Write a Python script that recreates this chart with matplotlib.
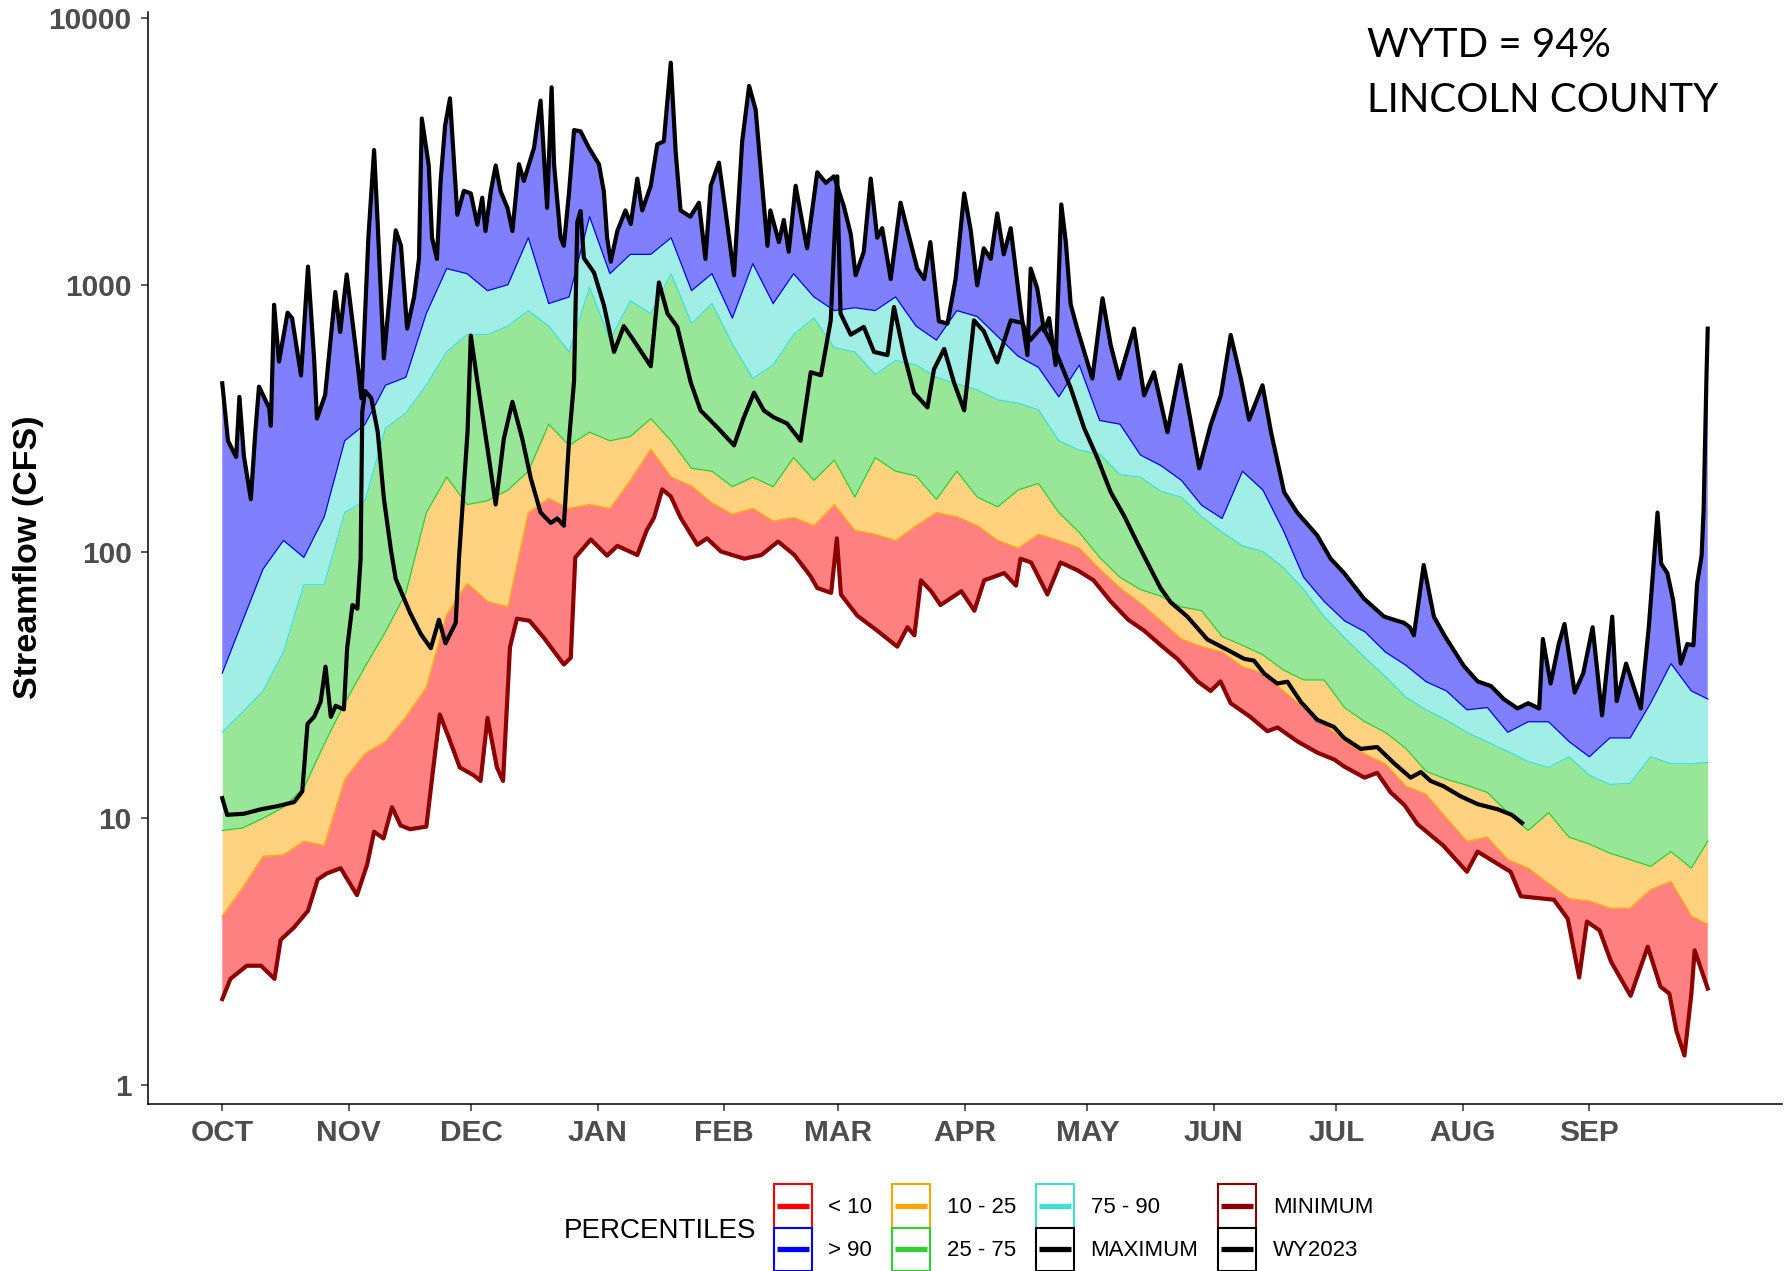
import numpy as np
import matplotlib
matplotlib.use("Agg")
import matplotlib.pyplot as plt
from matplotlib.patches import Rectangle
from matplotlib.lines import Line2D
from matplotlib.legend_handler import HandlerBase

plt.rcParams['font.family'] = ['Liberation Sans', 'DejaVu Sans']

# ---------------- data (day of water year, CFS) ----------------
grid_days = list(range(0, 361, 5)) + [364]

p90 = [35, 55, 86, 110, 95, 135, 260, 300, 420, 450,
       780, 1150, 1100, 950, 1000, 1500, 850, 900, 1800, 1100,
       1300, 1300, 1500, 950, 1100, 750, 1200, 850, 1100, 900,
       800, 820, 800, 900, 700, 620, 800, 760, 640, 540,
       490, 380, 500, 310, 300, 230, 210, 185, 149, 133,
       200, 170, 120, 80, 65, 55, 50, 42, 37.5, 32.5,
       30, 25.5, 26, 21, 23, 23, 19.4, 17, 20, 20,
       27, 38, 30, 28]

p75 = [21, 25, 30, 42, 75, 75, 140, 155, 290, 330,
       420, 560, 650, 650, 700, 800, 700, 560, 980, 620,
       870, 780, 1100, 715, 850, 600, 445, 500, 650, 750,
       580, 560, 460, 520, 500, 450, 425, 404, 370, 360,
       340, 260, 240, 232, 194, 190, 168, 160, 135, 118,
       105, 100, 87, 72, 57, 47.5, 40, 34, 28.5, 25.5,
       23.3, 21, 19.3, 17.8, 16.3, 15.5, 17, 14.5, 13.4, 13.5,
       17, 16, 16, 16.2]

p25 = [9, 9.2, 10, 11, 13, 19, 27, 37, 50, 70,
       140, 190, 150, 155, 170, 200, 300, 250, 280, 260,
       270, 315, 260, 205, 200, 175, 190, 175, 225, 185,
       220, 160, 225, 200, 192, 157, 200, 160, 147, 170,
       180, 140, 118, 95, 80, 72, 68, 62, 60, 48,
       44.5, 41, 36, 33, 33, 26, 23, 21, 18.3, 15,
       14, 13.3, 12.5, 10.5, 9, 10.5, 8.5, 8, 7.4, 7,
       6.6, 7.5, 6.5, 8.2]

p10 = [4.3, 5.5, 7.2, 7.3, 8.2, 7.9, 14, 17.5, 19.4, 24,
       31, 58, 76, 65, 62, 140, 158, 145, 150, 145,
       185, 242, 190, 176, 152, 138, 145, 130, 134, 125,
       150, 120, 116, 110, 125, 140, 135, 125, 110, 103,
       116, 110, 103, 86, 73, 64, 55, 47, 44, 42,
       37, 35, 30, 26, 22.5, 19.5, 17.4, 16, 13.2, 12.3,
       10, 8.2, 8.5, 7, 6.5, 5.7, 5, 4.9, 4.6, 4.6,
       5.4, 5.8, 4.3, 4]

min_days = [0, 2, 6, 9.5, 12.8, 14.3, 17.6, 21, 23.4, 25.5, 29, 33, 35.5, 37.2, 39.5,
            41.6, 43.7, 46, 50, 51.5, 53.3, 55.7, 58.2, 61.6, 63.3, 65, 67.3, 68.8,
            70.5, 72.2, 75.3, 78.8, 83.7, 85.4, 86.5, 90.3, 94.3, 96.8, 101.7, 104,
            105.8, 107.8, 109.9, 112.3, 116.4, 118.8, 122.2, 127.9, 132.1, 136.2,
            140.2, 144.1, 145.8, 149.2, 150.6, 151.6, 155.6, 160.5, 165.4, 167.9,
            169.6, 171.2, 173.7, 176, 181.1, 184.3, 186.7, 191.6, 194.5, 195.6,
            198.2, 202.2, 205.4, 209.6, 213.5, 217.7, 222, 225.9, 230, 234.1, 239,
            242.2, 244.6, 247.1, 251.9, 256.1, 258.6, 263.5, 268.4, 272.5, 275,
            279.9, 283, 286.3, 289.7, 292.9, 299.2, 305, 307.6, 315.7, 318.2,
            326.3, 329.7, 332.5, 334.4, 337.5, 340.3, 345.1, 349.3, 352.4, 354.6,
            356.3, 358.3, 360, 360.8, 362.7, 364]
min_vals = [2.1, 2.5, 2.8, 2.8, 2.5, 3.5, 3.9, 4.5, 5.9, 6.2, 6.5, 5.15, 6.7, 8.9, 8.4,
            11, 9.4, 9.1, 9.3, 14.5, 24.5, 19.7, 15.5, 14.5, 13.8, 23.8, 15.5, 13.8,
            43.8, 56, 55, 47.5, 37.7, 40, 95, 111, 96.5, 105, 97, 120,
            134, 171, 161, 134, 106, 112, 100, 94, 97, 109,
            97, 81, 73, 70, 112, 69, 57.5, 50.5, 44, 52,
            48.5, 78, 71, 63, 71, 60, 78, 83, 74.5, 94,
            91, 69, 91, 85, 78, 65, 55.5, 50.5, 44.5, 39.5, 32.6,
            30, 32.6, 27, 24, 21.2, 21.9, 19.4, 17.6, 16.6, 15.6,
            14.2, 14.8, 12.5, 11.2, 9.5, 7.9, 6.3, 7.5, 6.3, 5.1,
            4.95, 4.2, 2.53, 4.1, 3.8, 2.9, 2.16, 3.3, 2.34, 2.2,
            1.6, 1.29, 2.2, 3.2, 2.63, 2.3]

max_days = [0, 1.4, 3.4, 4.2, 5.3, 7, 8.1, 9, 11.5, 11.9, 12.7, 13.9, 16, 17.1, 19.3,
            21, 22.5, 23.2, 25.2, 27.7, 28.9, 30.5, 33, 34.1, 35.8, 37.2, 38, 39.6,
            42.5, 43.8, 45.3, 47, 48.2, 48.9, 50.6, 51.4, 52.6, 53.5, 54.6, 55.8,
            57.6, 59.2, 60.9, 62.5, 63.7, 64.5, 65.8, 67, 68.2, 69.9, 71.1, 72.7,
            73.9, 76.4, 78, 79.6, 80.7, 81.3, 82.9, 83.7, 85, 86.2, 87.8, 89.8,
            92.3, 93.5, 94.3, 95.2, 96.8, 98.8, 100.1, 101.7, 102.9, 105, 106.6,
            108.2, 109.9, 111.1, 112.3, 114.7, 116.8, 118.4, 119.7, 121.7, 123.3,
            125.4, 127.4, 129.1, 130.7, 132.3, 133.6, 134.3, 136.4, 137.6, 138.8,
            140.5, 143.3, 145.8, 147.9, 149.9, 152.3, 154, 155.2, 157.2, 158.9,
            160.5, 161.7, 163.8, 166.2, 167.9, 170.3, 172, 173.5, 175.6, 177.7,
            179.7, 181.8, 183.4, 185, 186.6, 188.3, 189.9, 191.5, 193.2, 195.6,
            197.3, 198.1, 199.7, 201.4, 202.6, 204.2, 205.6, 206.7, 207.9, 209.5,
            213.2, 215.7, 217.7, 219.8, 223.4, 225.9, 228.3, 231.6, 234.8, 239.4,
            242.2, 244.7, 247.1, 249.6, 251.6, 254.9, 257, 260.2, 263.4, 268.3,
            271.6, 274.9, 279.8, 284.7, 289.6, 291, 292, 294.4, 296.9, 299.5,
            304.2, 307.6, 310.9, 314, 317.4, 320, 322.7, 323.6, 325.5, 327.5,
            328.9, 331.4, 333.5, 335.8, 338.1, 340.6, 341.7, 344, 347.6, 349.6,
            351.7, 352.6, 354.1, 355.5, 357.4, 359, 360.5, 361.4, 362.5, 363,
            363.4, 363.7, 364]
max_vals = [427, 260, 226, 380, 228, 157, 281, 415, 345, 296, 842, 515, 786, 750, 457,
            1170, 530, 315, 386, 940, 665, 1093, 530, 375, 1500, 3200, 1800, 530,
            1600, 1400, 685, 900, 1250, 4200, 2800, 1500, 1250, 2450, 3950, 5000,
            1830, 2250, 2200, 1680, 2120, 1590, 2240, 2800, 2240, 1940, 1590, 2830,
            2450, 3265, 4900, 1940, 5500, 2830, 1500, 1400, 2240, 3800, 3760, 3270,
            2830, 2240, 1500, 1220, 1590, 1900, 1690, 2500, 1900, 2350, 3360,
            3450, 6800, 3150, 1900, 1800, 2030, 1250, 2350, 2870, 1900,
            1085, 3450, 5560, 4530, 2350, 1400, 1900, 1445, 1750, 1330,
            2350, 1370, 2640, 2410, 2550, 1970, 1550, 1085, 1330, 2500,
            1500, 1630, 1050, 2030, 1600, 1150, 1050, 1445, 730, 715,
            1050, 2200, 1600, 995, 1370, 1250, 1850, 1300, 1630, 815,
            545, 1150, 970, 670, 750, 500, 2000, 1450, 845, 685,
            445, 890, 595, 445, 685, 385, 470, 280, 500, 205,
            298, 385, 648, 445, 312, 420, 280, 167, 140, 115,
            94, 83, 66.5, 57, 54, 52, 48.5, 89, 57, 48.4,
            37.3, 32.6, 31.3, 28, 25.8, 27, 25.8, 47, 32, 45,
            53.5, 29.6, 35, 52, 24.3, 57, 27.5, 38, 25.8, 53,
            140, 90, 83, 66, 38, 45, 44.5, 76, 96.5, 144,
            280, 458, 685]

wy_days = [0, 1.2, 5.3, 9.4, 13.5, 17.6, 19.6, 20.9, 22.5, 24.1, 25.3, 26.6, 27.8,
           29.8, 30.6, 31.9, 33.1, 33.9, 34.3, 35, 36.5, 38.1, 39.6, 41.3, 42.5, 46,
           48.6, 51.1, 53.1, 54.7, 57.2, 58, 60.1, 60.9, 62.5, 65, 67, 69, 71.1,
           73.5, 75.6, 78, 80.5, 82.1, 83.7, 85, 86.2, 87, 87.8, 88.6, 91.1, 93.5,
           96, 98.4, 100.9, 105, 107, 109.1, 111.5, 114.8, 117.2, 121.3, 125.4,
           127.8, 130.3, 132.7, 135.2, 138.4, 141.7, 144.2, 146.7, 149.1, 150.7,
           151.5, 154, 157.2, 159.7, 163, 164.6, 167.1, 169.5, 172.8, 174.4, 176.9,
           179.3, 181.8, 184.2, 186.6, 189.9, 193.2, 196, 198, 201, 204.6, 207.9,
           211.2, 214.4, 217.7, 221, 224.2, 227.5, 229.9, 232.4, 236.5, 241.4,
           246.3, 250.4, 252.8, 255.3, 258.5, 261, 264.3, 268.3, 272.4, 274.9, 279,
           283, 287.1, 291.2, 293.7, 296.1, 299.2, 303.4, 307.6, 312.6, 316, 318.5]
wy_vals = [11.9, 10.3, 10.4, 10.8, 11.1, 11.5, 12.6, 22.6, 24, 27.3, 37, 24, 26.4,
           25.6, 43.4, 63, 61, 94, 334, 400, 376, 280, 158, 102, 79, 59,
           49.2, 43.4, 55.5, 45.3, 54, 94, 280, 645, 435, 243, 150, 265, 364,
           265, 188, 140, 128, 133, 125, 265, 435, 1720, 1890, 1260, 1110, 840,
           560, 700, 616, 495, 1020, 780, 695, 430, 338, 292, 250,
           318, 394, 338, 318, 302, 260, 470, 458, 735, 2550,
           780, 650, 695, 560, 545, 825, 545, 394, 347, 482, 575,
           430, 338, 735, 670, 512, 735, 720, 620, 700, 545, 410,
           290, 225, 167, 136, 108, 86, 73, 64.5, 57, 46.8,
           42.8, 39.6, 39, 34.9, 32, 32.5, 27.3, 23.4, 22, 20, 18.2,
           18.5, 16.1, 14.2, 14.9, 13.8, 13.2, 12.1, 11.3, 10.8, 10.3, 9.6]

month_days = [0, 31, 61, 92, 123, 151, 182, 212, 243, 273, 304, 335]
month_labels = ['OCT', 'NOV', 'DEC', 'JAN', 'FEB', 'MAR', 'APR', 'MAY', 'JUN',
                'JUL', 'AUG', 'SEP']
ytick_vals = [1, 10, 100, 1000, 10000]
ytick_labels = ['1', '10', '100', '1000', '10000']

legend_labels = ['< 10', '> 90', '10 - 25', '25 - 75', '75 - 90', 'MAXIMUM',
                 'MINIMUM', 'WY2023']
legend_colors = ['#FF0000', '#0000FF', '#FFA500', '#32CD32', '#40E0D0', '#000000',
                 '#8B0000', '#000000']


class KeyHandler(HandlerBase):
    """Legend key: outlined white box with a thick centred line."""
    def create_artists(self, legend, orig_handle, xdescent, ydescent, width,
                       height, fontsize, trans):
        c = orig_handle.get_color()
        box = Rectangle((-xdescent, -ydescent), width, height, facecolor='white',
                        edgecolor=c, linewidth=1.5, transform=trans)
        yc = -ydescent + height / 2.0
        ln = Line2D([-xdescent + 0.08 * width, -xdescent + 0.92 * width], [yc, yc],
                    color=c, linewidth=3.8, solid_capstyle='butt', transform=trans)
        return [box, ln]


# ---------------- figure ----------------
W, H = 1791, 1271
fig = plt.figure(figsize=(W / 100, H / 100), dpi=100)
ax = fig.add_axes([148 / W, 1 - 1104 / H, (1782 - 148) / W, (1104 - 12) / H])
ax.set_yscale('log')
ax.set_xlim(-18.2, 382.2)
ax.set_ylim(0.849, 10532)

g = np.array(grid_days, dtype=float)
a90, a75, a25, a10 = (np.array(v, dtype=float) for v in (p90, p75, p25, p10))

# bands
ax.fill(np.r_[min_days, g[::-1]], np.r_[min_vals, a10[::-1]],
        color='#FF8080', lw=0, zorder=1)
ax.fill_between(g, a10, a25, color='#FFD280', lw=0, zorder=1)
ax.fill_between(g, a25, a75, color='#98E698', lw=0, zorder=1)
ax.fill_between(g, a75, a90, color='#A0EEE6', lw=0, zorder=1)
ax.fill(np.r_[max_days, g[::-1]], np.r_[max_vals, a90[::-1]],
        color='#8080FF', lw=0, zorder=1)

# band edges
ax.plot(g, a10, color='#FFA500', lw=0.9, zorder=2)
ax.plot(g, a25, color='#32CD32', lw=0.9, zorder=2)
ax.plot(g, a75, color='#40E0D0', lw=0.9, zorder=2)
ax.plot(g, a90, color='#0000FF', lw=0.9, zorder=2)

# lines
ax.plot(max_days, max_vals, color='black', lw=3.0, zorder=3)
ax.plot(min_days, min_vals, color='#8B0000', lw=3.0, zorder=3)
ax.plot(wy_days, wy_vals, color='black', lw=3.0, zorder=4)

# axes styling
for s in ('top', 'right'):
    ax.spines[s].set_visible(False)
for s in ('left', 'bottom'):
    ax.spines[s].set_color('black')
    ax.spines[s].set_linewidth(1.1)

ax.set_xticks(month_days)
ax.set_xticklabels(month_labels, fontsize=21.5, fontweight='bold', color='#4D4D4D')
ax.set_yticks(ytick_vals)
ax.set_yticklabels(ytick_labels, fontsize=21.5, fontweight='bold', color='#4D4D4D')
ax.yaxis.set_minor_locator(matplotlib.ticker.NullLocator())
ax.tick_params(axis='x', length=4.8, width=1.1, color='#333333', pad=6)
ax.tick_params(axis='y', length=4.8, width=1.1, color='#333333', pad=7)

fig.text(28.5 / W, 1 - 557 / H, 'Streamflow (CFS)', rotation=90, ha='center',
         va='center', fontsize=24.5, fontweight='bold', color='black')

# annotation
fig.text(1367 / W, 1 - 57 / H, 'WYTD = 94%', fontsize=29, family=['Lato', 'DejaVu Sans'],
         ha='left', va='baseline', color='black')
fig.text(1367 / W, 1 - 112 / H, 'LINCOLN COUNTY', fontsize=29,
         family=['Lato', 'DejaVu Sans'], ha='left', va='baseline', color='black')

# legend
handles = [Line2D([], [], color=c) for c in legend_colors]
fig.legend(handles, legend_labels, ncol=4, loc='lower left',
           bbox_to_anchor=(774 / W, 0.0), frameon=False, fontsize=16,
           handlelength=1.7, handleheight=2.63, handletextpad=0.75,
           columnspacing=0.9, labelspacing=0.0, borderpad=0, borderaxespad=0,
           handler_map={Line2D: KeyHandler()})
fig.text(756 / W, 1 - 1231 / H, 'PERCENTILES', ha='right', va='center', fontsize=20,
         color='black')

fig.savefig('out.png', dpi=100)
